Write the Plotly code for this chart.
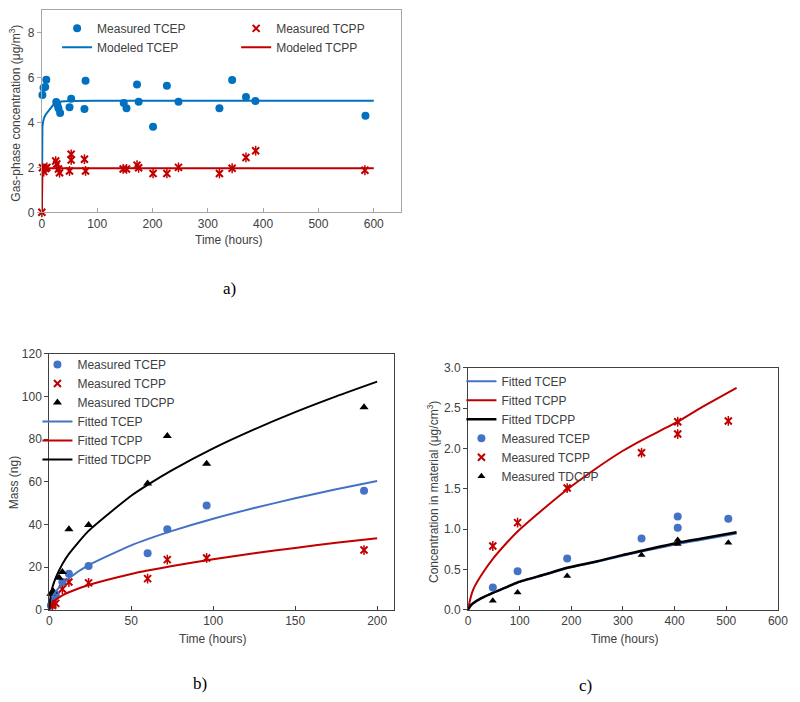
import plotly.graph_objects as go

W, H = 800, 702

# ---------------- Panel a data ----------------
a_meas_tcep_t = [1, 3, 6, 8, 26, 28, 30, 33, 50, 53, 77, 79, 148, 153, 172, 175, 201, 226, 247, 321, 344, 369, 386, 585]
a_meas_tcep_c = [5.22, 5.54, 5.57, 5.9, 4.91, 4.8, 4.63, 4.42, 4.67, 5.05, 4.6, 5.85, 4.86, 4.63, 5.68, 4.92, 3.8, 5.63, 4.92, 4.63, 5.88, 5.13, 4.95, 4.29]
a_meas_tcpp_t = [0, 1, 3.5, 7, 9, 25, 27, 30, 32, 50, 53, 53, 77, 79, 147, 153, 172, 175, 201, 226, 247, 321, 344, 369, 386.5, 584]
a_meas_tcpp_c = [0, 1.98, 1.81, 1.95, 2.0, 2.28, 2.15, 1.93, 1.76, 1.84, 2.33, 2.58, 2.36, 1.84, 1.93, 1.93, 2.1, 1.98, 1.73, 1.73, 2.0, 1.73, 1.96, 2.44, 2.74, 1.87]
a_mod_tcep_t = [0, 0.5, 1, 2, 4, 7, 10, 15, 20, 27, 35, 50, 100, 600]
a_mod_tcep_c = [0, 3.6, 3.8, 4.0, 4.2, 4.35, 4.45, 4.62, 4.76, 4.88, 4.93, 4.95, 4.96, 4.96]
a_mod_tcpp_t = [0, 0.5, 1, 2, 5, 10, 600]
a_mod_tcpp_c = [0, 1.7, 1.88, 1.93, 1.95, 1.96, 1.96]

# ---------------- Panel b data ----------------
b_meas_t = [1, 2, 4, 8, 12, 24, 60, 72, 96, 192]
b_meas_tcep = [2, 4, 7, 13, 16.9, 20.5, 26.5, 37.7, 48.9, 55.8]
b_meas_tcpp_t = [2, 4, 8, 12, 24, 60, 72, 96, 192]
b_meas_tcpp = [2, 3, 9.7, 13, 12.6, 14.6, 23.5, 24.3, 28]
b_meas_tdcpp_t = [1, 2.5, 6, 8, 12, 24, 60, 72, 96, 192]
b_meas_tdcpp = [7.5, 8.5, 15, 17.7, 37.7, 39.7, 59.2, 81.5, 68.5, 95]
b_fit_t = [0, 1, 2, 4, 8, 12, 24, 50, 60, 75, 100, 125, 150, 175, 200]
b_fit_tcep = [0, 4.3, 6, 8.5, 12.1, 14.8, 20.9, 30.2, 33.1, 37, 42.7, 47.7, 52.3, 56.5, 60.4]
b_fit_tcpp = [0, 2.4, 3.35, 4.7, 6.7, 8.2, 11.6, 16.8, 18.4, 20.5, 23.7, 26.5, 29, 31.4, 33.5]
b_fit_tdcpp = [0, 7.6, 10.7, 15.1, 21.4, 26.2, 37, 53.5, 58.6, 65.5, 75.7, 84.6, 92.7, 100.1, 107]

# ---------------- Panel c data ----------------
c_meas_t = [48, 96, 192, 336, 406, 406, 504]
c_meas_tcep = [0.276, 0.478, 0.636, 0.884, 1.017, 1.155, 1.127]
c_meas_tcpp = [0.79, 1.08, 1.508, 1.946, 2.33, 2.177, 2.34]
c_meas_tdcpp = [0.11, 0.215, 0.418, 0.677, 0.863, 0.815, 0.83]
c_fit_t = [0, 5, 10, 25, 48, 75, 96, 150, 192, 250, 300, 336, 406, 450, 520]
c_fit_tcep = [0, 0.05, 0.08, 0.14, 0.21, 0.28, 0.335, 0.435, 0.515, 0.595, 0.67, 0.72, 0.815, 0.865, 0.945]
c_fit_tcpp = [0, 0.15, 0.25, 0.42, 0.63, 0.83, 0.97, 1.27, 1.49, 1.76, 1.97, 2.1, 2.33, 2.5, 2.75]
c_fit_tdcpp = [0, 0.05, 0.08, 0.14, 0.21, 0.28, 0.34, 0.44, 0.52, 0.6, 0.68, 0.73, 0.83, 0.88, 0.96]

BLUE_A = "#0070C0"
BLUE = "#4472C4"
RED = "#C00000"
BLACK = "#000000"
FONT = "Liberation Sans, Arial, sans-serif"
TXT = "#404040"

fig = go.Figure()


def star(x, y, xa, ya, name, legend, show=True):
    fig.add_trace(go.Scatter(x=x, y=y, mode="markers", name=name, xaxis=xa, yaxis=ya,
                             legend=legend, showlegend=show, cliponaxis=False,
                             marker=dict(symbol="x-thin-open", size=7, color=RED,
                                         line=dict(color=RED, width=2))))
    fig.add_trace(go.Scatter(x=x, y=y, mode="markers", showlegend=False, xaxis=xa, yaxis=ya,
                             cliponaxis=False, hoverinfo="skip",
                             marker=dict(symbol="line-ns-open", size=7, color=RED,
                                         line=dict(color=RED, width=1.5))))


# Panel a
fig.add_trace(go.Scatter(x=a_meas_tcep_t, y=a_meas_tcep_c, mode="markers", name="Measured TCEP",
                         xaxis="x", yaxis="y", legend="legend", cliponaxis=False,
                         marker=dict(symbol="circle", size=8, color=BLUE_A)))
fig.add_trace(go.Scatter(x=a_mod_tcep_t, y=a_mod_tcep_c, mode="lines", name="Modeled TCEP",
                         xaxis="x", yaxis="y", legend="legend",
                         line=dict(color=BLUE_A, width=2)))
star(a_meas_tcpp_t, a_meas_tcpp_c, "x", "y", "Measured TCPP", "legend2")
fig.add_trace(go.Scatter(x=a_mod_tcpp_t, y=a_mod_tcpp_c, mode="lines", name="Modeled TCPP",
                         xaxis="x", yaxis="y", legend="legend2",
                         line=dict(color=RED, width=2)))

# Panel b
fig.add_trace(go.Scatter(x=b_meas_t, y=b_meas_tcep, mode="markers", name="Measured TCEP",
                         xaxis="x2", yaxis="y2", legend="legend3", cliponaxis=False,
                         marker=dict(symbol="circle", size=8, color=BLUE)))
star(b_meas_tcpp_t, b_meas_tcpp, "x2", "y2", "Measured TCPP", "legend3")
fig.add_trace(go.Scatter(x=b_meas_tdcpp_t, y=b_meas_tdcpp, mode="markers", name="Measured TDCPP",
                         xaxis="x2", yaxis="y2", legend="legend3", cliponaxis=False,
                         marker=dict(symbol="triangle-up", size=8, color=BLACK)))
for vals, col, nm in [(b_fit_tcep, BLUE, "Fitted TCEP"), (b_fit_tcpp, RED, "Fitted TCPP"),
                      (b_fit_tdcpp, BLACK, "Fitted TDCPP")]:
    fig.add_trace(go.Scatter(x=b_fit_t, y=vals, mode="lines", name=nm, xaxis="x2", yaxis="y2",
                             legend="legend3", line=dict(color=col, width=2, shape="spline",
                                                         smoothing=0.6)))

# Panel c
for vals, col, nm, w in [(c_fit_tcep, BLUE, "Fitted TCEP", 2), (c_fit_tcpp, RED, "Fitted TCPP", 2),
                         (c_fit_tdcpp, BLACK, "Fitted TDCPP", 2.5)]:
    fig.add_trace(go.Scatter(x=c_fit_t, y=vals, mode="lines", name=nm, xaxis="x3", yaxis="y3",
                             legend="legend4", line=dict(color=col, width=w, shape="spline",
                                                         smoothing=0.6)))
fig.add_trace(go.Scatter(x=c_meas_t, y=c_meas_tcep, mode="markers", name="Measured TCEP",
                         xaxis="x3", yaxis="y3", legend="legend4", cliponaxis=False,
                         marker=dict(symbol="circle", size=8, color=BLUE)))
star(c_meas_t, c_meas_tcpp, "x3", "y3", "Measured TCPP", "legend4")
fig.add_trace(go.Scatter(x=c_meas_t, y=c_meas_tdcpp, mode="markers", name="Measured TDCPP",
                         xaxis="x3", yaxis="y3", legend="legend4", cliponaxis=False,
                         marker=dict(symbol="triangle-up", size=7, color=BLACK)))


def dom_x(x0, x1):
    return [x0 / W, x1 / W]


def dom_y(top, bottom):
    return [1 - bottom / H, 1 - top / H]


def xax(domain, rng, dtick, anchor, linecolor):
    return dict(domain=domain, range=rng, dtick=dtick, anchor=anchor, showgrid=False, zeroline=False,
                showline=True, mirror=True, linecolor=linecolor, linewidth=1,
                ticks="inside", ticklen=4, tickcolor=linecolor,
                tickfont=dict(family=FONT, size=12, color=TXT))


def yax(domain, rng, dtick, anchor, linecolor, fmt=None):
    d = dict(domain=domain, range=rng, dtick=dtick, anchor=anchor, showgrid=False, zeroline=False,
             showline=True, mirror=True, linecolor=linecolor, linewidth=1,
             ticks="outside", ticklen=4, tickcolor=linecolor,
             tickfont=dict(family=FONT, size=12, color=TXT))
    if fmt:
        d["tickformat"] = fmt
    return d


GRAY = "#A6A6A6"
DARK = "#404040"
fig.update_layout(
    width=W, height=H, margin=dict(l=0, r=0, t=0, b=0),
    paper_bgcolor="white", plot_bgcolor="white", showlegend=True,
    xaxis=xax(dom_x(39.5, 405), [0, 650], 100, "y", GRAY),
    yaxis=yax(dom_y(3, 209.5), [0, 9], 2, "x", GRAY),
    xaxis2=xax(dom_x(47, 397), [0, 210], 50, "y2", DARK),
    yaxis2=yax(dom_y(354, 615), [0, 120], 20, "x2", DARK),
    xaxis3=xax(dom_x(472.7, 787.7), [0, 600], 100, "y3", DARK),
    yaxis3=yax(dom_y(368, 615), [0, 3], 0.5, "x3", DARK, ".1f"),
)
leg_common = dict(bgcolor="rgba(0,0,0,0)", font=dict(family=FONT, size=12, color=TXT),
                  xanchor="left", yanchor="top", tracegroupgap=0, itemwidth=30)
fig.update_layout(
    legend=dict(x=(95 - 40) / W, y=1 - 7 / H, **leg_common),
    legend2=dict(x=(277 - 40) / W, y=1 - 7 / H, **leg_common),
    legend3=dict(x=(75 - 40) / W, y=1 - 350 / H, **leg_common),
    legend4=dict(x=(506 - 40) / W, y=1 - 367 / H, **leg_common),
)

ann = []


def title(text, x, y, angle=0, size=12, family=FONT, color=TXT):
    ann.append(dict(text=text, x=x / W, y=1 - y / H, xref="paper", yref="paper", showarrow=False,
                    textangle=angle, font=dict(family=family, size=size, color=color),
                    xanchor="center", yanchor="middle"))


title("Time (hours)", 230, 238)
title("Gas-phase concentration (μg/m<sup>3</sup>)", 12, 108, angle=-90)
title("Time (hours)", 213, 645)
title("Mass (ng)", 12, 485, angle=-90)
title("Time (hours)", 632, 645)
title("Concentration in material (μg/cm<sup>3</sup>)", 437, 495, angle=-90)
SERIF = "Liberation Serif, Times New Roman, serif"
title("a)", 230, 287, size=17, family=SERIF, color="#000000")
title("b)", 200, 690, size=17, family=SERIF, color="#000000")
title("c)", 592, 692, size=17, family=SERIF, color="#000000")
fig.update_layout(annotations=ann)

fig.write_html("out.html", config={"displayModeBar": False},
               post_script="document.body.style.margin='0';")
